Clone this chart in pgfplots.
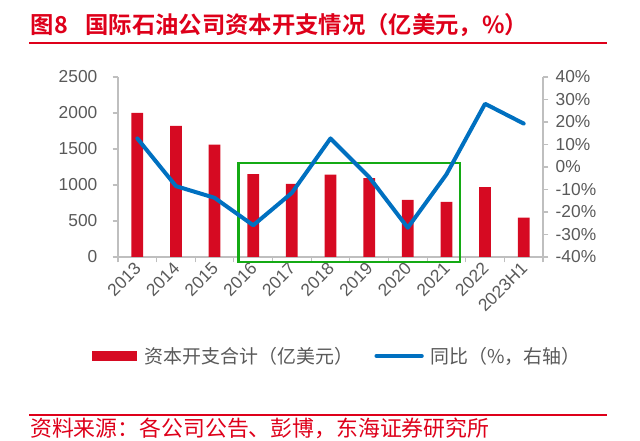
\documentclass[border=0pt]{standalone}
\usepackage{pgfplots}
\pgfplotsset{compat=1.18}
\usepackage{fontspec}
\setmainfont{Noto Sans CJK SC}[BoldFont={Noto Sans CJK SC Bold}]
\newfontfamily\numfont{Liberation Sans}
\definecolor{titlered}{RGB}{222,0,26}
\definecolor{barred}{RGB}{214,10,34}
\definecolor{lineblue}{RGB}{0,112,192}
\definecolor{boxgreen}{RGB}{20,170,20}
\definecolor{ticktext}{RGB}{89,89,89}
\definecolor{axisgray}{RGB}{191,191,191}
\begin{document}
\begin{tikzpicture}
\path[use as bounding box] (0pt,0pt) rectangle (480pt,-330.75pt);
\node[anchor=base west, inner sep=0pt, text=titlered, font=\fontsize{17.5}{20}\selectfont\bfseries] at (23pt,-25.5pt) {图8\hspace{0.75em}国际石油公司资本开支情况（亿美元，\%）};
\draw[titlered, line width=1.4pt] (22pt,-32.25pt) -- (455pt,-32.25pt);
\draw[titlered, line width=1.4pt] (22pt,-311.25pt) -- (455pt,-311.25pt);
\node[anchor=base west, inner sep=0pt, text=titlered, font=\fontsize{16.4}{18}\selectfont] at (22.5pt,-327.5pt) {资料来源：各公司公告、彭博，东海证券研究所};

\pgfplotsset{
  common/.style={
    at={(88.5pt,-192.75pt)}, anchor=south west,
    scale only axis, width=318.75pt, height=135pt,
    xmin=-0.5, xmax=10.5,
    axis line style={axisgray, line width=0.8pt},
    tick style={axisgray, line width=0.8pt},
    ticklabel style={text=ticktext, font=\numfont\fontsize{13}{15}\selectfont},
    /pgf/number format/assume math mode=true,
    clip=false,
  }
}
\begin{axis}[common,
  axis y line*=left, axis x line*=bottom,
  ymin=0, ymax=2500, ytick={0,500,...,2500},
  y tick label style={/pgf/number format/1000 sep={}},
  yticklabel style={xshift=-8pt},
  xtick={0,...,10},
  xticklabels={2013,2014,2015,2016,2017,2018,2019,2020,2021,2022,2023H1},
  xticklabel style={rotate=45, anchor=east, xshift=2pt, yshift=-2pt},
  major x tick style={draw=none},
  minor xtick={-0.5,0.5,...,10.5},
  tick align=outside,
  major tick length=4pt, minor tick length=4pt,
  ybar, bar width=8.8pt,
]
\addplot[fill=barred, draw=none] coordinates {
(0,2000) (1,1820) (2,1560) (3,1150) (4,1015) (5,1145) (6,1095) (7,792) (8,765) (9,972) (10,546)};
\draw[boxgreen, line width=1.6pt] (axis cs:2.62,1301) rectangle (axis cs:8.36,-65);
\end{axis}
\begin{axis}[common,
  axis y line*=right, axis x line=none,
  ymin=-40, ymax=40, ytick={-40,-30,...,40},
  yticklabel={\pgfmathprintnumber{\tick}\%},
  yticklabel style={xshift=2pt},
  tick align=outside, major tick length=4pt,
  legend style={at={(0.516,-0.55)}, anchor=center, legend columns=2, draw=none, fill=none,
    font=\fontsize{14.2}{16}\selectfont, text=ticktext,
    /tikz/every even column/.append style={column sep=14pt}},
]
\addlegendimage{draw=none, fill=barred, mark=none, legend image code/.code={\fill (0pt,-3.5pt) rectangle (34pt,3.5pt); \path (38pt,0pt);}}
\addlegendentry{资本开支合计（亿美元）}
\addplot[lineblue, line width=3pt, line join=round, line cap=round, mark=none,
  legend image code/.code={\draw[lineblue, line width=3pt, line cap=round] (0pt,0pt) -- (34pt,0pt); \path (37pt,0pt);}] coordinates {
(0,12.7) (1,-8.5) (2,-13.7) (3,-25.9) (4,-11.5) (5,12.7) (6,-4.5) (7,-27) (8,-3.3) (9,28.1) (10,19.3)};
\addlegendentry{同比（\%，右轴）}
\end{axis}
\end{tikzpicture}
\end{document}
